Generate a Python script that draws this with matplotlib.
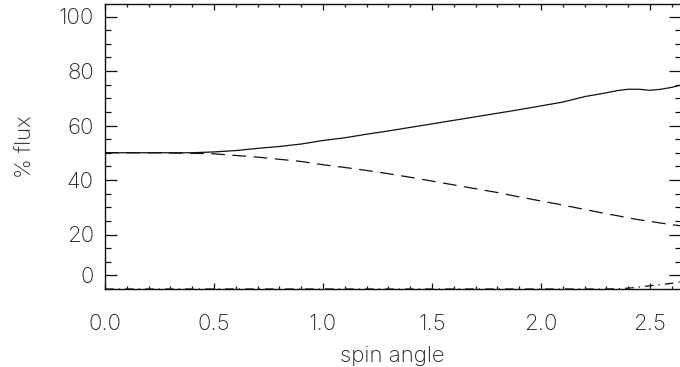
import matplotlib
matplotlib.use("Agg")
import matplotlib.pyplot as plt
from matplotlib.ticker import FixedLocator, MultipleLocator
from matplotlib import font_manager

# Data
spin_angle = [0.0, 0.1, 0.2, 0.3, 0.4, 0.5, 0.6, 0.7, 0.8, 0.9, 1.0, 1.1, 1.2,
              1.3, 1.4, 1.5, 1.6, 1.7, 1.8, 1.9, 2.0, 2.1, 2.2, 2.3, 2.35, 2.4,
              2.45, 2.5, 2.55, 2.6, 2.64]
flux_solid = [50.0, 50.0, 50.0, 50.0, 50.0, 50.3, 50.8, 51.6, 52.3, 53.2, 54.5,
              55.5, 56.8, 58.0, 59.3, 60.6, 61.9, 63.2, 64.5, 65.8, 67.2, 68.6,
              70.6, 72.0, 72.8, 73.3, 73.3, 72.9, 73.3, 74.0, 74.8]
flux_dashed = [50.0, 50.0, 50.0, 49.9, 49.8, 49.6, 49.0, 48.4, 47.6, 46.8, 45.6,
               44.6, 43.5, 42.3, 41.0, 39.6, 38.2, 36.8, 35.4, 33.8, 32.3, 30.8,
               29.2, 27.6, 26.9, 26.1, 25.4, 24.8, 24.2, 23.6, 23.2]
flux_dashdot = [0.0, 0.0, 0.0, 0.0, 0.0, 0.0, 0.0, 0.0, 0.0, 0.0, 0.0, 0.0, 0.0,
                0.0, 0.0, 0.0, 0.0, 0.0, 0.0, 0.0, 0.0, 0.0, 0.0, 0.0, 0.1, 0.3,
                0.7, 1.2, 1.6, 2.1, 2.6]

ytick_pos = [5, 20, 40, 60, 80, 100]
ytick_labels = ["0", "20", "40", "60", "80", "100"]
xtick_pos = [0.0, 0.5, 1.0, 1.5, 2.0, 2.5]
xtick_labels = ["0.0", "0.5", "1.0", "1.5", "2.0", "2.5"]

# pick a thin font if available
light = None
for f in font_manager.fontManager.ttflist:
    if f.name in ("DejaVu Sans", "Open Sans", "Lato", "Roboto", "Inter", "Noto Sans") and \
            (f.weight in (200, 300, "light", "extra-light", "ultralight")):
        light = f
        break
wt = "normal"
if light is not None:
    plt.rcParams["font.family"] = [light.name]
    wt = light.weight
else:
    plt.rcParams["font.family"] = ["DejaVu Sans"]
plt.rcParams["font.weight"] = wt
plt.rcParams["axes.labelweight"] = wt

W, H = 680, 367
fig = plt.figure(figsize=(W / 100, H / 100), dpi=100)
xmax = 2.64
ax = fig.add_axes([105 / W, (H - 289) / H, (xmax * 218) / W, 285 / H])

lc = "#111111"
ax.plot(spin_angle, flux_solid, color=lc, lw=0.9, ls="-")
ax.plot(spin_angle, flux_dashed, color=lc, lw=0.9, ls=(0, (11, 6)))
ax.plot(spin_angle, flux_dashdot, color=lc, lw=0.9, ls=(0, (7, 4, 1, 4)))

ax.set_xlim(0, xmax)
ax.set_ylim(0, 285 / 2.725)

tc = "#222222"
fs = 16
ax.xaxis.set_major_locator(FixedLocator(xtick_pos))
ax.set_xticklabels(xtick_labels)
ax.xaxis.set_minor_locator(MultipleLocator(0.1))
ax.yaxis.set_major_locator(FixedLocator(ytick_pos))
ax.set_yticklabels(ytick_labels)
ax.yaxis.set_minor_locator(FixedLocator([v for v in range(10, 100, 5) if v % 20 != 0]))

ax.tick_params(axis="both", which="both", direction="in", top=True, right=True,
               color=lc, width=0.9, labelsize=fs, labelcolor=tc)
ax.tick_params(axis="x", which="major", length=4.2, pad=18)
ax.tick_params(axis="x", which="minor", length=2.2)
ax.tick_params(axis="y", which="major", length=8.5, pad=8)
ax.tick_params(axis="y", which="minor", length=4.3)

for s in ax.spines.values():
    s.set_color(lc)
    s.set_linewidth(1.0)

ax.set_xlabel("spin angle", fontsize=fs, color=tc, labelpad=9, fontweight=wt)
ax.set_ylabel("% flux", fontsize=fs, color=tc, labelpad=17, fontweight=wt)

fig.savefig("out.png", dpi=100)
